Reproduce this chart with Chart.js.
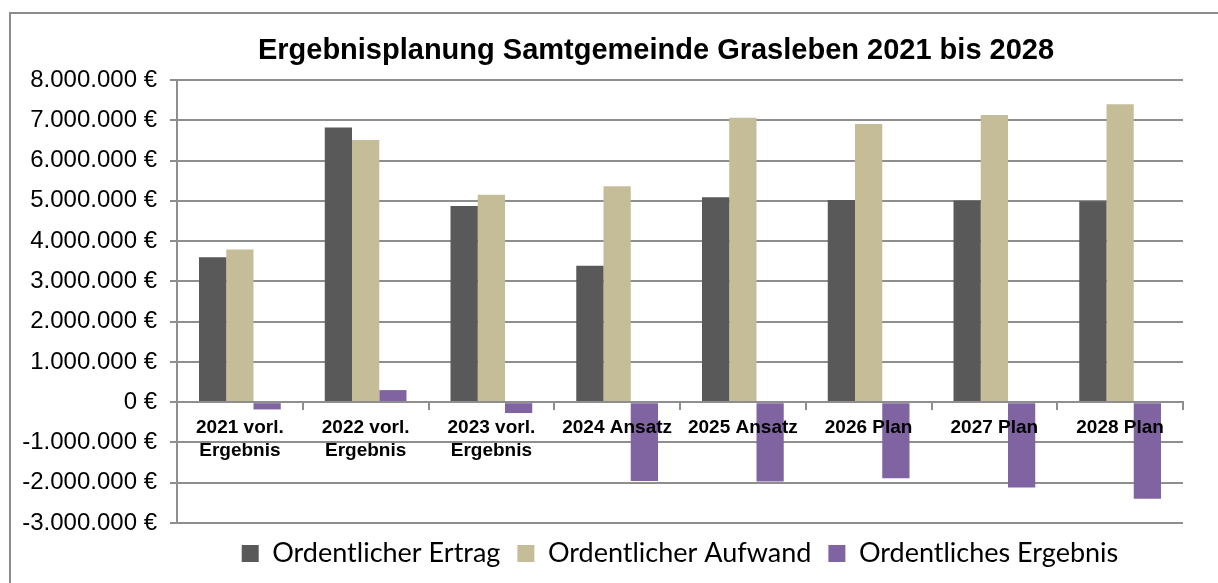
<!DOCTYPE html>
<html lang="de">
<head>
<meta charset="utf-8">
<title>Ergebnisplanung Samtgemeinde Grasleben 2021 bis 2028</title>
<script src="https://cdn.jsdelivr.net/npm/chart.js@4.4.1/dist/chart.umd.min.js"></script>
<style>
    html, body { margin: 0; padding: 0; background: #fff; overflow: hidden; }
    #frame {
        position: absolute; left: 9px; top: 12px;
        width: 1207px; height: 569px;
        border-left: 2px solid #8c8c8c; border-top: 2px solid #8c8c8c;
    }
    #chart { display: block; }
</style>
</head>
<body>
<div id="frame"><canvas id="chart" width="1207" height="569"></canvas></div>
<script>
// Daten
const chartTitle = 'Ergebnisplanung Samtgemeinde Grasleben 2021 bis 2028';
const categories = [
    ['2021 vorl.', 'Ergebnis'], ['2022 vorl.', 'Ergebnis'], ['2023 vorl.', 'Ergebnis'],
    '2024 Ansatz', '2025 Ansatz', '2026 Plan', '2027 Plan', '2028 Plan'
];
const ertrag   = [3600000, 6820000, 4870000, 3390000, 5090000, 5020000, 5010000, 4990000];
const aufwand  = [3790000, 6510000, 5150000, 5360000, 7060000, 6910000, 7130000, 7400000];
const ergebnis = [-180000, 300000, -270000, -1960000, -1970000, -1890000, -2120000, -2400000];
const yMin = -3000000, yMax = 8000000, yStep = 1000000;

const gridColor = '#8e8e8e';

function euro(v) {
    const s = Math.abs(v).toString().replace(/\B(?=(\d{3})+(?!\d))/g, '.');
    return (v < 0 ? '-' : '') + s + ' €';
}

// Titel etwas links von der Mitte, wie im Original
const titlePlugin = {
    id: 'titleText',
    afterDraw(chart) {
        const { ctx, chartArea } = chart;
        ctx.save();
        ctx.font = 'bold 29px "Liberation Sans", Arial, sans-serif';
        ctx.fillStyle = '#000';
        ctx.textAlign = 'center';
        ctx.textBaseline = 'alphabetic';
        ctx.fillText(chartTitle, (chartArea.left + chartArea.right) / 2 - 24, chartArea.top - 21);
        ctx.restore();
    }
};

const ctx = document.getElementById('chart').getContext('2d');
new Chart(ctx, {
    type: 'bar',
    data: {
        labels: categories,
        datasets: [
            { label: 'Ordentlicher Ertrag', data: ertrag, backgroundColor: '#595959' },
            { label: 'Ordentlicher Aufwand', data: aufwand, backgroundColor: '#c4bd97' },
            { label: 'Ordentliches Ergebnis', data: ergebnis, backgroundColor: '#8064a2' }
        ]
    },
    options: {
        responsive: false,
        animation: false,
        devicePixelRatio: 1,
        categoryPercentage: 0.65,
        barPercentage: 1.0,
        layout: { padding: { left: 11, right: 35, top: 66, bottom: 6 } },
        plugins: {
            title: { display: false },
            tooltip: { enabled: false },
            legend: {
                position: 'bottom',
                fullSize: false,
                labels: {
                    boxWidth: 17, boxHeight: 17, padding: 17,
                    color: '#000',
                    font: { family: 'Lato, "Open Sans", sans-serif', size: 27 }
                }
            }
        },
        scales: {
            x: {
                position: { y: 0 },
                grid: { offset: true, drawOnChartArea: false, drawTicks: true, tickLength: 7, color: gridColor, lineWidth: 2 },
                border: { display: true, color: gridColor, width: 2, z: 1 },
                ticks: {
                    z: 1,
                    color: '#000', padding: 7, maxRotation: 0, autoSkip: false,
                    font: { family: '"Liberation Sans", Arial, sans-serif', size: 19, weight: 'bold', lineHeight: 1.2 }
                }
            },
            y: {
                min: yMin, max: yMax,
                grid: { color: gridColor, lineWidth: 2, tickLength: 7 },
                border: { display: true, color: gridColor, width: 2 },
                ticks: {
                    stepSize: yStep, padding: 13, color: '#000',
                    font: { family: '"Liberation Sans", Arial, sans-serif', size: 24 },
                    callback: v => euro(v)
                },
                afterFit: scale => { scale.width = 155; }
            }
        }
    },
    plugins: [titlePlugin]
});
</script>
</body>
</html>
